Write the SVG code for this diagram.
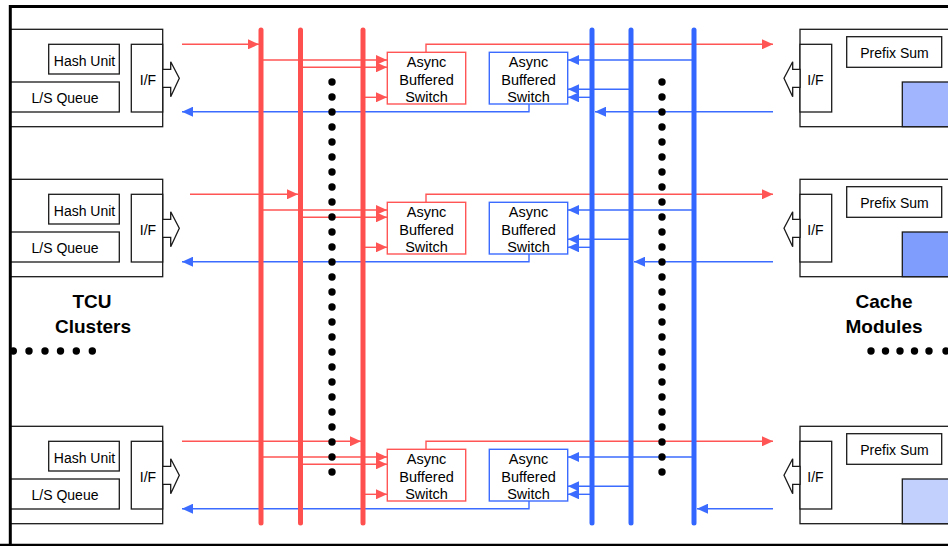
<svg xmlns="http://www.w3.org/2000/svg" width="948" height="546" viewBox="0 0 948 546">
<style>
  .box{fill:#fff;stroke:#1a1a1a;stroke-width:1.3}
  .fillbox{stroke:#1a1a1a;stroke-width:1.3}
  .hol{fill:#fff;stroke:#1a1a1a;stroke-width:1.3;stroke-linejoin:miter}
  .t{font-family:"Liberation Sans",Arial,sans-serif;font-size:14px;fill:#000;text-anchor:middle}
  .ts{font-family:"Liberation Sans",Arial,sans-serif;font-size:14.5px;fill:#000;text-anchor:middle}
  .tb{font-family:"Liberation Sans",Arial,sans-serif;font-size:19px;font-weight:bold;fill:#000;text-anchor:middle}
  .rsw{fill:#fff;stroke:#ff5555;stroke-width:1.4}
  .bsw{fill:#fff;stroke:#3b6cff;stroke-width:1.4}
  .r{fill:none;stroke:#ff5555;stroke-width:1.4}
  .b{fill:none;stroke:#3b6cff;stroke-width:1.4}
  .ra{marker-end:url(#ar)}
  .ba{marker-end:url(#ab)}
  .rbus{stroke:#ff5050;stroke-width:5;stroke-linecap:round}
  .bbus{stroke:#3366ff;stroke-width:5;stroke-linecap:round}
  .dot{fill:#000}
</style>
<defs>
  <marker id="ar" markerUnits="userSpaceOnUse" markerWidth="11" markerHeight="10" viewBox="0 0 11 10" refX="11" refY="5" orient="auto"><path d="M0,0 L11,5 L0,10 z" fill="#ff5555"/></marker>
  <marker id="ab" markerUnits="userSpaceOnUse" markerWidth="11" markerHeight="10" viewBox="0 0 11 10" refX="11" refY="5" orient="auto"><path d="M0,0 L11,5 L0,10 z" fill="#3b6cff"/></marker>
  <g id="cluster">
    <rect class="box" x="10" y="29.3" width="152.7" height="97.4"/>
    <rect class="box" x="48.7" y="44.3" width="70.6" height="29.7"/>
    <rect class="box" x="10" y="82" width="109.3" height="30"/>
    <rect class="box" x="131.3" y="44.3" width="31.4" height="67.7"/>
    <polygon class="hol" points="162.7,69.3 170.7,69.3 170.7,61.7 179.3,78.3 170.7,96.7 170.7,87.3 162.7,87.3"/>
    <text class="t" x="84.5" y="65.5">Hash Unit</text>
    <text class="t" x="65" y="102.5">L/S Queue</text>
    <text class="t" x="148" y="84.5">I/F</text>
  </g>
  <g id="cache">
    <rect class="box" x="800" y="29.3" width="160" height="97.4"/>
    <rect class="box" x="800" y="44.3" width="31.7" height="67.7"/>
    <rect class="box" x="846.7" y="36.7" width="95" height="30.6"/>
    <polygon class="hol" points="800,69.3 792.7,69.3 792.7,61.7 784,78.3 792.7,96.7 792.7,87.3 800,87.3"/>
    <text class="t" x="894.5" y="57.5">Prefix Sum</text>
    <text class="t" x="815.5" y="84.5">I/F</text>
  </g>
  <g id="rswitch">
    <rect class="rsw" x="387.3" y="52.3" width="78.4" height="51.7"/>
    <text class="ts" x="426.5" y="66.5">Async</text>
    <text class="ts" x="426.5" y="84.5">Buffered</text>
    <text class="ts" x="426.5" y="102.3">Switch</text>
  </g>
  <g id="bswitch">
    <rect class="bsw" x="489.3" y="52.3" width="78.4" height="51.7"/>
    <text class="ts" x="528.5" y="66.5">Async</text>
    <text class="ts" x="528.5" y="84.5">Buffered</text>
    <text class="ts" x="528.5" y="102.3">Switch</text>
  </g>
</defs>

<g id="nodes">
  <g id="tcu-cluster-1"><use href="#cluster"/></g>
  <g id="tcu-cluster-2"><use href="#cluster" transform="translate(0,150)"/></g>
  <g id="tcu-cluster-3"><use href="#cluster" transform="translate(0,397)"/></g>
  <g id="cache-module-1"><use href="#cache"/><rect class="fillbox" x="902.3" y="82" width="60" height="44.7" fill="#a0b5fd"/></g>
  <g id="cache-module-2"><use href="#cache" transform="translate(0,150)"/><rect class="fillbox" x="902.3" y="232" width="60" height="44.7" fill="#7e9dfd"/></g>
  <g id="cache-module-3"><use href="#cache" transform="translate(0,397)"/><rect class="fillbox" x="902.3" y="479" width="60" height="44.7" fill="#c1d0fc"/></g>
  <g id="red-switch-1"><use href="#rswitch"/></g>
  <g id="red-switch-2"><use href="#rswitch" transform="translate(0,150)"/></g>
  <g id="red-switch-3"><use href="#rswitch" transform="translate(0,397)"/></g>
  <g id="blue-switch-1"><use href="#bswitch"/></g>
  <g id="blue-switch-2"><use href="#bswitch" transform="translate(0,150)"/></g>
  <g id="blue-switch-3"><use href="#bswitch" transform="translate(0,397)"/></g>
</g>

<g id="connectors">
  <!-- row 1 -->
  <path class="r ra" d="M182,44.3 H259"/>
  <path class="r ra" d="M261,60 H387"/>
  <path class="r ra" d="M300,67.3 H387"/>
  <path class="r ra" d="M363,97.3 H387"/>
  <path class="r ra" d="M426,52.3 V44.3 H773"/>
  <path class="b ba" d="M694,60 H568"/>
  <path class="b ba" d="M631,89.3 H568"/>
  <path class="b ba" d="M592,97.3 H568"/>
  <path class="b ba" d="M529,104 V111.7 H182"/>
  <path class="b ba" d="M773,111.7 H595"/>
  <!-- row 2 -->
  <path class="r ra" d="M190,194.3 H298"/>
  <path class="r ra" d="M261,210 H387"/>
  <path class="r ra" d="M300,217.3 H387"/>
  <path class="r ra" d="M363,247.3 H387"/>
  <path class="r ra" d="M426,202.3 V194.3 H773"/>
  <path class="b ba" d="M694,210 H568"/>
  <path class="b ba" d="M631,239.3 H568"/>
  <path class="b ba" d="M592,247.3 H568"/>
  <path class="b ba" d="M529,254 V261.7 H182"/>
  <path class="b ba" d="M773,261.7 H634"/>
  <!-- row 3 -->
  <path class="r ra" d="M182,441.3 H361"/>
  <path class="r ra" d="M261,457 H387"/>
  <path class="r ra" d="M300,464.3 H387"/>
  <path class="r ra" d="M363,494.3 H387"/>
  <path class="r ra" d="M426,449.3 V441.3 H773"/>
  <path class="b ba" d="M694,457 H568"/>
  <path class="b ba" d="M631,486.3 H568"/>
  <path class="b ba" d="M592,494.3 H568"/>
  <path class="b ba" d="M529,501 V508.7 H182"/>
  <path class="b ba" d="M773,508.7 H697"/>
  <!-- buses -->
  <line class="rbus" x1="261" y1="30" x2="261" y2="523"/>
  <line class="rbus" x1="300.5" y1="30" x2="300.5" y2="523"/>
  <line class="rbus" x1="363" y1="30" x2="363" y2="523"/>
  <line class="bbus" x1="592" y1="30" x2="592" y2="523"/>
  <line class="bbus" x1="631" y1="30" x2="631" y2="523"/>
  <line class="bbus" x1="694" y1="30" x2="694" y2="523"/>
</g>

<g id="frame">
  <path d="M960,6.5 H10.3 V546" fill="none" stroke="#000" stroke-width="3"/>
  <path d="M0,545 H960" fill="none" stroke="#000" stroke-width="2.5"/>
</g>

<g id="labels">
  <text class="tb" x="92" y="308">TCU</text>
  <text class="tb" x="93" y="333">Clusters</text>
  <text class="tb" x="884" y="308">Cache</text>
  <text class="tb" x="884" y="333">Modules</text>
</g>

<g id="dots">
  <g id="dots-left">
    <circle class="dot" cx="332" cy="82" r="3.7"/><circle class="dot" cx="332" cy="97" r="3.7"/><circle class="dot" cx="332" cy="112" r="3.7"/><circle class="dot" cx="332" cy="127" r="3.7"/><circle class="dot" cx="332" cy="142" r="3.7"/><circle class="dot" cx="332" cy="157" r="3.7"/><circle class="dot" cx="332" cy="172" r="3.7"/><circle class="dot" cx="332" cy="187" r="3.7"/><circle class="dot" cx="332" cy="202" r="3.7"/><circle class="dot" cx="332" cy="217" r="3.7"/><circle class="dot" cx="332" cy="232" r="3.7"/><circle class="dot" cx="332" cy="247" r="3.7"/><circle class="dot" cx="332" cy="262" r="3.7"/><circle class="dot" cx="332" cy="277" r="3.7"/><circle class="dot" cx="332" cy="292" r="3.7"/><circle class="dot" cx="332" cy="307" r="3.7"/><circle class="dot" cx="332" cy="322" r="3.7"/><circle class="dot" cx="332" cy="337" r="3.7"/><circle class="dot" cx="332" cy="352" r="3.7"/><circle class="dot" cx="332" cy="367" r="3.7"/><circle class="dot" cx="332" cy="382" r="3.7"/><circle class="dot" cx="332" cy="397" r="3.7"/><circle class="dot" cx="332" cy="412" r="3.7"/><circle class="dot" cx="332" cy="427" r="3.7"/><circle class="dot" cx="332" cy="442" r="3.7"/><circle class="dot" cx="332" cy="457" r="3.7"/><circle class="dot" cx="332" cy="472" r="3.7"/>
  </g>
  <g id="dots-right">
    <circle class="dot" cx="662" cy="82" r="3.7"/><circle class="dot" cx="662" cy="97" r="3.7"/><circle class="dot" cx="662" cy="112" r="3.7"/><circle class="dot" cx="662" cy="127" r="3.7"/><circle class="dot" cx="662" cy="142" r="3.7"/><circle class="dot" cx="662" cy="157" r="3.7"/><circle class="dot" cx="662" cy="172" r="3.7"/><circle class="dot" cx="662" cy="187" r="3.7"/><circle class="dot" cx="662" cy="202" r="3.7"/><circle class="dot" cx="662" cy="217" r="3.7"/><circle class="dot" cx="662" cy="232" r="3.7"/><circle class="dot" cx="662" cy="247" r="3.7"/><circle class="dot" cx="662" cy="262" r="3.7"/><circle class="dot" cx="662" cy="277" r="3.7"/><circle class="dot" cx="662" cy="292" r="3.7"/><circle class="dot" cx="662" cy="307" r="3.7"/><circle class="dot" cx="662" cy="322" r="3.7"/><circle class="dot" cx="662" cy="337" r="3.7"/><circle class="dot" cx="662" cy="352" r="3.7"/><circle class="dot" cx="662" cy="367" r="3.7"/><circle class="dot" cx="662" cy="382" r="3.7"/><circle class="dot" cx="662" cy="397" r="3.7"/><circle class="dot" cx="662" cy="412" r="3.7"/><circle class="dot" cx="662" cy="427" r="3.7"/><circle class="dot" cx="662" cy="442" r="3.7"/><circle class="dot" cx="662" cy="457" r="3.7"/><circle class="dot" cx="662" cy="472" r="3.7"/>
  </g>
  <g id="dots-tcu">
    <circle class="dot" cx="13.3" cy="351" r="3.7"/><circle class="dot" cx="29" cy="351" r="3.7"/><circle class="dot" cx="45" cy="351" r="3.7"/><circle class="dot" cx="60.5" cy="351" r="3.7"/><circle class="dot" cx="76.3" cy="351" r="3.7"/><circle class="dot" cx="92.3" cy="351" r="3.7"/>
  </g>
  <g id="dots-cache">
    <circle class="dot" cx="871" cy="351" r="3.7"/><circle class="dot" cx="885.5" cy="351" r="3.7"/><circle class="dot" cx="900" cy="351" r="3.7"/><circle class="dot" cx="914.5" cy="351" r="3.7"/><circle class="dot" cx="929" cy="351" r="3.7"/><circle class="dot" cx="946" cy="351" r="3.7"/>
  </g>
</g>
</svg>
